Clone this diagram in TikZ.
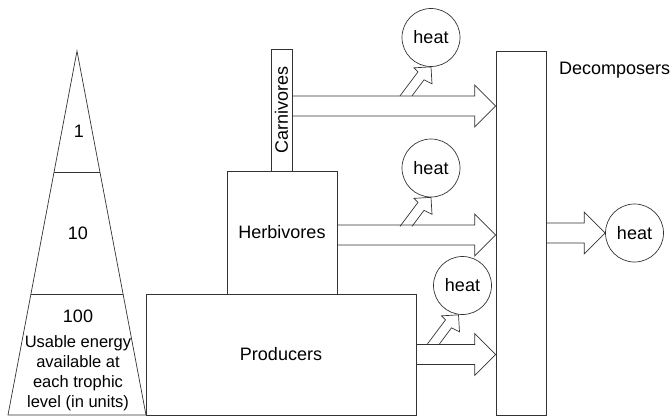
\documentclass[tikz,border=0pt]{standalone}
\usepackage{fontspec}
\setmainfont{Liberation Sans}
\usepackage{graphicx}
\usetikzlibrary{calc}
% fat flow arrow from a start point to the x of an end point
\newcommand\flow[2]{%
  \draw[fat] let \p1=(#1), \p2=(#2) in
    (\x1,\y1+10) -- (\x2-21,\y1+10) -- (\x2-21,\y1+21) -- (\x2,\y1)
    -- (\x2-21,\y1-21) -- (\x2-21,\y1-10) -- (\x1,\y1-10);}
% small slanted arrow ending at a heat circle
\newcommand\vent[1]{%
  \draw[fat] (#1) +(-31,-29) -- +(-13,-5) -- +(-17,-1) -- +(0,0)
    -- +(1,-17) -- +(-7,-13) -- +(-19,-29);}
\begin{document}
\begin{tikzpicture}[x=1pt, y=1pt,
    every node/.style={font=\fontsize{18}{21}\selectfont, inner sep=0pt},
    fat/.style={draw=black!80, line width=0.7pt},
    level/.style={draw=black!80, line width=0.7pt, minimum width=#1},
    heat/.style={circle, draw=black!80, line width=0.7pt, minimum size=58pt}]
  \useasboundingbox (0,0) rectangle (671,416);
  % pyramid of usable energy
  \coordinate (apex) at (77,365);
  \coordinate (bl) at (8,1);
  \coordinate (br) at (146,1);
  \draw[fat] (apex) -- (bl) -- (br) -- cycle;
  \draw[fat] ($(apex)!0.3324!(bl)$) -- ($(apex)!0.3324!(br)$);
  \draw[fat] ($(apex)!0.6676!(bl)$) -- ($(apex)!0.6676!(br)$);
  \node (n1) at (79,285) {1};
  \node (n10) at (78,183) {10};
  \node (n100) at (78,100) {100};
  \node[align=center, font=\fontsize{16.5}{20}\selectfont] (note) at (78,43)
    {Usable energy\\available at\\each trophic\\level (in units)};
  % trophic levels
  \node[level=270pt, minimum height=121pt] (prod) at (281,61.5) {Producers};
  \node[level=110pt, minimum height=123pt] (herb) at (282,183.5) {Herbivores};
  \node[level=21pt, minimum height=122pt] (carn) at (281.5,306)
    {\rotatebox{90}{Carnivores}};
  \node[level=50pt, minimum height=364pt] (dec) at (521,183) {};
  \node[anchor=west] (declab) at (559,346) {Decomposers};
  % heat losses
  \node[heat] (h1) at (431,378.5) {heat};
  \node[heat] (h2) at (431,248) {heat};
  \node[heat] (h3) at (462.5,130.5) {heat};
  \node[heat] (h4) at (634.5,183) {heat};
  % flows
  \flow{[yshift=4pt]carn.east}{dec.west}
  \flow{[yshift=-2.5pt]herb.east}{dec.west}
  \flow{prod.east}{dec.west}
  \flow{dec.east}{h4.west}
  \vent{h1.south}
  \vent{h2.south}
  \vent{[xshift=-4pt]h3.south}
\end{tikzpicture}
\end{document}
